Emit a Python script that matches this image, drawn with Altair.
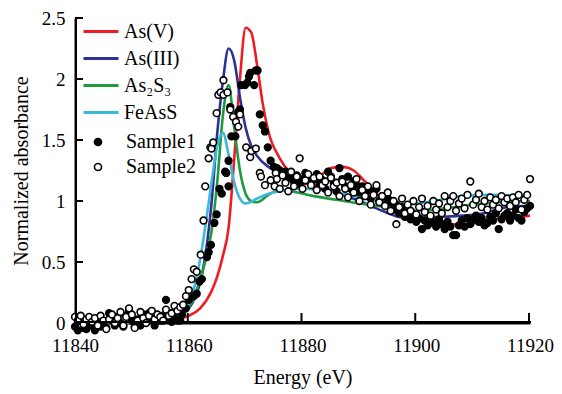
import altair as alt
import pandas as pd

# ---------------- reference curves (knots) ----------------
ASV_E = [11840, 11850, 11855, 11858, 11860, 11862, 11864, 11865, 11866, 11867, 11868, 11869,
         11870, 11871, 11872, 11873, 11874, 11876, 11878, 11880, 11881, 11883, 11885, 11887,
         11889, 11891, 11893, 11895, 11898, 11901, 11905, 11909, 11913, 11917, 11920]
ASV_Y = [0.0, 0.0, 0.01, 0.03, 0.06, 0.12, 0.26, 0.38, 0.55, 0.78, 1.35, 2.0,
         2.42, 2.38, 2.12, 1.8, 1.57, 1.35, 1.22, 1.14, 1.14, 1.2, 1.27, 1.28,
         1.25, 1.16, 1.06, 0.97, 0.88, 0.83, 0.81, 0.81, 0.85, 0.86, 0.88]

ASIII_E = [11840, 11850, 11855, 11858, 11860, 11861, 11862, 11863, 11864, 11865, 11866, 11867,
           11868, 11869, 11870, 11871, 11872, 11874, 11876, 11878, 11882, 11886, 11890, 11894,
           11897, 11900, 11904, 11908, 11912, 11916, 11920]
ASIII_Y = [0.0, 0.0, 0.02, 0.06, 0.12, 0.2, 0.33, 0.58, 0.98, 1.55, 1.98, 2.25,
           2.15, 1.85, 1.6, 1.45, 1.37, 1.28, 1.23, 1.19, 1.13, 1.07, 1.0, 0.92,
           0.87, 0.86, 0.87, 0.88, 0.9, 0.95, 0.96]

AS2S3_E = [11840, 11850, 11855, 11858, 11860, 11861, 11862, 11863, 11864, 11865, 11866, 11867,
           11868, 11869, 11870, 11871, 11872, 11874, 11876, 11878, 11882, 11886, 11890, 11895,
           11900, 11905, 11910, 11915, 11920]
AS2S3_Y = [0.0, 0.0, 0.02, 0.06, 0.13, 0.22, 0.36, 0.52, 0.75, 1.15, 1.7, 1.95,
           1.6, 1.25, 1.06, 1.0, 0.99, 1.05, 1.09, 1.08, 1.04, 1.01, 0.98, 0.95,
           0.92, 0.94, 0.97, 0.99, 1.0]

FEASS_E = [11840, 11850, 11855, 11858, 11859, 11860, 11861, 11862, 11863, 11864, 11865, 11866,
           11867, 11868, 11869, 11870, 11872, 11874, 11876, 11879, 11883, 11888, 11893, 11898,
           11903, 11908, 11913, 11920]
FEASS_Y = [0.0, 0.0, 0.02, 0.07, 0.1, 0.16, 0.3, 0.52, 0.82, 1.15, 1.45, 1.56,
           1.38, 1.15, 1.02, 0.98, 1.02, 1.06, 1.08, 1.1, 1.09, 1.05, 1.0, 0.97,
           1.0, 1.04, 1.05, 1.04]

# ---------------- measured samples (energy, absorbance) ----------------
SAMPLE1 = [
    (11840.0, -0.03), (11840.5, -0.06), (11841.0, 0.02), (11841.5, -0.04), (11842.0, -0.05),
    (11842.5, 0.0), (11843.0, -0.02), (11843.5, -0.06), (11844.0, 0.03), (11844.5, -0.03),
    (11845.0, 0.0), (11845.5, -0.04), (11846.0, 0.08), (11846.5, 0.02), (11847.0, -0.02),
    (11847.5, 0.05), (11848.0, 0.0), (11848.5, -0.03), (11849.0, 0.06), (11849.5, 0.1),
    (11850.0, 0.02), (11850.5, -0.03), (11851.0, 0.03), (11851.5, -0.02), (11852.0, 0.07),
    (11852.5, 0.01), (11853.0, 0.08), (11853.5, 0.03), (11854.0, -0.02), (11854.5, 0.05),
    (11855.0, 0.02), (11855.5, 0.06), (11856.0, 0.19), (11856.5, 0.03), (11857.0, 0.01),
    (11857.5, 0.04), (11858.0, 0.02),
    (11858.5, 0.02), (11858.8, 0.07), (11859.5, 0.12), (11860.0, 0.19), (11860.9, 0.22),
    (11861.4, 0.24), (11861.9, 0.34), (11862.3, 0.36), (11863.2, 0.54), (11863.5, 0.58),
    (11863.9, 0.64), (11864.5, 0.82), (11864.9, 0.89), (11865.4, 1.10), (11865.8, 1.06),
    (11866.4, 1.24), (11866.6, 1.23), (11867.0, 1.12), (11867.0, 1.33), (11867.5, 1.53),
    (11868.2, 1.53), (11867.3, 1.77), (11868.7, 1.73), (11869.0, 1.75), (11869.2, 1.95),
    (11869.9, 1.95), (11870.3, 1.97), (11870.6, 2.02), (11870.8, 2.05), (11871.5, 1.95),
    (11871.8, 2.07), (11872.1, 2.07), (11872.5, 1.71), (11873.0, 1.62), (11873.4, 1.57),
    (11873.9, 1.44), (11874.4, 1.33), (11875.0, 1.28),
    (11875.5, 1.27), (11876.0, 1.25), (11876.5, 1.22), (11877.0, 1.24), (11877.5, 1.19),
    (11878.0, 1.2), (11878.5, 1.16), (11879.0, 1.21), (11879.5, 1.14), (11880.0, 1.18),
    (11880.5, 1.23), (11881.0, 1.2), (11881.5, 1.15), (11882.0, 1.18), (11882.5, 1.22),
    (11883.0, 1.14), (11883.5, 1.17), (11884.0, 1.1), (11884.5, 1.24), (11885.0, 1.2),
    (11885.5, 1.15), (11886.0, 1.08), (11886.5, 1.27), (11887.0, 1.18), (11887.5, 1.12),
    (11888.0, 1.2), (11888.5, 1.1), (11889.0, 1.16), (11889.5, 1.13), (11890.0, 1.07),
    (11890.5, 1.12), (11891.0, 1.05), (11891.5, 1.09), (11892.0, 1.02), (11892.5, 1.08),
    (11893.0, 1.1), (11893.5, 1.0), (11894.0, 1.04), (11894.5, 0.97), (11895.0, 1.02),
    (11895.5, 0.99), (11896.0, 0.93), (11896.5, 0.97), (11897.0, 0.9), (11897.5, 0.95),
    (11898.0, 0.87), (11898.5, 0.91), (11899.0, 0.85), (11899.5, 0.88), (11900.0, 0.83),
    (11900.5, 0.86), (11901.0, 0.77), (11901.5, 0.84), (11902.0, 0.8), (11902.5, 0.86),
    (11903.0, 0.82), (11903.5, 0.79), (11904.0, 0.85), (11904.5, 0.81), (11905.0, 0.77),
    (11905.5, 0.83), (11906.0, 0.79), (11906.5, 0.72), (11907.0, 0.72), (11907.5, 0.8),
    (11908.0, 0.84), (11908.5, 0.79), (11909.0, 0.86), (11909.5, 0.81), (11910.0, 0.85),
    (11910.5, 0.88), (11911.0, 0.83), (11911.5, 0.86), (11912.0, 0.8), (11912.5, 0.82),
    (11913.0, 0.87), (11913.5, 0.84), (11914.0, 0.9), (11914.5, 0.77), (11915.0, 0.85),
    (11915.5, 0.88), (11916.0, 0.9), (11916.5, 0.84), (11917.0, 0.88), (11917.5, 0.93),
    (11918.0, 0.86), (11918.5, 0.84), (11919.0, 0.91), (11919.5, 0.94), (11920.0, 0.96),
]

SAMPLE2 = [
    (11840.0, 0.05), (11840.5, 0.02), (11841.0, 0.06), (11841.5, -0.01), (11842.0, 0.03),
    (11842.5, 0.05), (11843.0, 0.01), (11843.5, 0.04), (11844.0, -0.02), (11844.5, 0.06),
    (11845.0, 0.02), (11845.5, -0.05), (11846.0, 0.03), (11846.5, 0.07), (11847.0, 0.0),
    (11847.5, 0.04), (11848.0, 0.09), (11848.5, -0.02), (11849.0, 0.05), (11849.5, 0.12),
    (11850.0, 0.07), (11850.5, -0.04), (11851.0, 0.02), (11851.5, 0.09), (11852.0, 0.04),
    (11852.5, 0.0), (11853.0, 0.06), (11853.5, 0.1), (11854.0, 0.03), (11854.5, 0.07),
    (11855.0, 0.05), (11855.5, 0.02), (11856.0, 0.11), (11856.5, 0.06), (11857.0, 0.08),
    (11857.5, 0.14), (11858.0, 0.1),
    (11858.5, 0.13), (11859.0, 0.15), (11859.5, 0.22), (11860.0, 0.27), (11860.5, 0.36),
    (11860.9, 0.44), (11861.4, 0.42), (11862.1, 0.56), (11862.6, 0.84), (11862.9, 1.12),
    (11863.5, 1.35), (11863.8, 1.44), (11864.0, 1.43), (11864.3, 1.48), (11864.9, 1.72),
    (11865.2, 1.87), (11865.6, 1.89), (11866.1, 1.87), (11866.1, 1.99), (11866.8, 1.89),
    (11867.3, 1.75), (11867.8, 1.69), (11868.3, 1.65), (11868.7, 1.61), (11869.0, 1.71),
    (11870.1, 1.44), (11870.8, 1.36), (11871.0, 1.41), (11871.8, 1.43), (11872.5, 1.23),
    (11872.7, 1.20), (11873.4, 1.13), (11874.4, 1.17), (11875.1, 1.12), (11875.3, 1.23),
    (11875.5, 1.18), (11876.0, 1.1), (11876.5, 1.21), (11877.0, 1.15), (11877.5, 1.08),
    (11878.0, 1.24), (11878.5, 1.12), (11879.0, 1.2), (11879.5, 1.35), (11880.0, 1.1),
    (11880.5, 1.17), (11881.0, 1.22), (11881.5, 1.13), (11882.0, 1.19), (11882.5, 1.09),
    (11883.0, 1.2), (11883.5, 1.13), (11884.0, 1.16), (11884.5, 1.07), (11885.0, 1.19),
    (11885.5, 1.12), (11886.0, 1.15), (11886.5, 1.04), (11887.0, 1.16), (11887.5, 1.1),
    (11888.0, 1.03), (11888.5, 1.13), (11889.0, 1.07), (11889.5, 1.18), (11890.0, 1.0),
    (11890.5, 1.09), (11891.0, 1.04), (11891.5, 1.12), (11892.0, 0.97), (11892.5, 1.05),
    (11893.0, 1.13), (11893.5, 0.99), (11894.0, 1.04), (11894.5, 0.96), (11895.0, 1.07),
    (11895.5, 0.92), (11896.0, 1.0), (11896.5, 0.81), (11897.0, 0.95), (11897.5, 1.02),
    (11898.0, 0.9), (11898.5, 0.97), (11899.0, 0.92), (11899.5, 1.0), (11900.0, 0.89),
    (11900.5, 0.95), (11901.0, 1.02), (11901.5, 0.91), (11902.0, 0.96), (11902.5, 0.88),
    (11903.0, 1.0), (11903.5, 0.93), (11904.0, 0.98), (11904.5, 0.9), (11905.0, 1.04),
    (11905.5, 0.95), (11906.0, 1.0), (11906.5, 1.04), (11907.0, 0.92), (11907.5, 0.98),
    (11908.0, 1.02), (11908.5, 0.94), (11909.0, 1.05), (11909.5, 1.16), (11910.0, 0.97),
    (11910.5, 1.01), (11911.0, 1.06), (11911.5, 0.95), (11912.0, 1.0), (11912.5, 0.93),
    (11913.0, 1.03), (11913.5, 0.97), (11914.0, 1.01), (11914.5, 0.94), (11915.0, 1.04),
    (11915.5, 0.99), (11916.0, 1.02), (11916.5, 0.96), (11917.0, 1.03), (11917.5, 0.99),
    (11918.0, 1.05), (11918.5, 0.93), (11919.0, 1.01), (11919.5, 1.05), (11920.0, 1.18),
]

CURVES = ["As(V)", "As(III)", "As\u2082S\u2083", "FeAsS"]
CURVE_COLORS = ["#ee1c24", "#2e3192", "#1f9a3f", "#3cb8db"]
SAMPLES = ["Sample1", "Sample2"]
SAMPLE_FILLS = ["#000000", "#ffffff"]

X_DOMAIN = [11840, 11920]
Y_DOMAIN = [0, 2.5]
X_TICKS = [11860, 11880, 11900, 11920]
Y_TICKS = [0.5, 1.0, 1.5, 2.0, 2.5]

FONT = "Liberation Serif"
PLOT_W = 455
PLOT_H = 305

# ---------------- tables ----------------
rows = []
for name, es, ys in [(CURVES[0], ASV_E, ASV_Y), (CURVES[1], ASIII_E, ASIII_Y),
                     (CURVES[2], AS2S3_E, AS2S3_Y), (CURVES[3], FEASS_E, FEASS_Y)]:
    for e, y in zip(es, ys):
        rows.append({"E": e, "y": y, "series": name})
lines_df = pd.DataFrame(rows)

prow = []
for name, pts in [(SAMPLES[0], SAMPLE1), (SAMPLES[1], SAMPLE2)]:
    for e, y in pts:
        prow.append({"E": e, "y": y, "series": name})
points_df = pd.DataFrame(prow)

# axis frame and inward ticks as short line segments, one pixel inside the plot edge
px_x = (X_DOMAIN[1] - X_DOMAIN[0]) / PLOT_W     # energy per pixel
px_y = (Y_DOMAIN[1] - Y_DOMAIN[0]) / PLOT_H     # absorbance per pixel
x_in = X_DOMAIN[0] + 1.0 * px_x
y_in = Y_DOMAIN[0] + 1.0 * px_y
seg = []
seg += [{"E": X_DOMAIN[0], "y": y_in, "g": "xaxis"}, {"E": X_DOMAIN[1], "y": y_in, "g": "xaxis"}]
seg += [{"E": x_in, "y": Y_DOMAIN[0], "g": "yaxis"}, {"E": x_in, "y": Y_DOMAIN[1], "g": "yaxis"}]
for t in X_TICKS:
    seg += [{"E": t - 1.0 * px_x, "y": y_in, "g": f"xt{t}"},
            {"E": t - 1.0 * px_x, "y": y_in + 8 * px_y, "g": f"xt{t}"}]
for t in Y_TICKS:
    seg += [{"E": x_in, "y": t, "g": f"yt{t}"},
            {"E": x_in + 6 * px_x, "y": t, "g": f"yt{t}"}]
frame_df = pd.DataFrame(seg)

xscale = alt.Scale(domain=X_DOMAIN, nice=False, zero=False)
yscale = alt.Scale(domain=Y_DOMAIN, nice=False)

common = dict(domain=True, domainColor="black", domainWidth=2,
              grid=False, ticks=False, labelFlush=False,
              labelColor="#000000", titleColor="#000000", titleFontWeight="normal",
              labelFont=FONT, labelFontSize=19, titleFont=FONT, titleFontSize=20)

xaxis = alt.Axis(title="Energy (eV)", values=[11840] + X_TICKS, format="d",
                 labelPadding=13, titlePadding=12, **common)
yaxis = alt.Axis(title="Normalized absorbance", values=[0] + Y_TICKS, format="~g",
                 labelPadding=10, titlePadding=10, **common)

xenc = alt.X("E:Q", scale=xscale, axis=xaxis)
yenc = alt.Y("y:Q", scale=yscale, axis=yaxis)

frame = alt.Chart(frame_df).mark_line(color="black", strokeWidth=2, strokeCap="square").encode(
    x=xenc, y=yenc, detail="g:N"
)

lines = alt.Chart(lines_df).mark_line(strokeWidth=2.6, interpolate="monotone").encode(
    x=xenc, y=yenc, detail="series:N",
    stroke=alt.Stroke("series:N", title=None,
                      scale=alt.Scale(domain=CURVES, range=CURVE_COLORS),
                      legend=alt.Legend(orient="none", legendX=7, legendY=0,
                                        symbolType="stroke", symbolSize=1225,
                                        symbolStrokeWidth=3, clipHeight=27, rowPadding=0,
                                        labelFont=FONT, labelFontSize=20,
                                        labelColor="#000000", labelOffset=4)),
)

pt_legend = alt.Legend(orient="none", legendX=13, legendY=114,
                       symbolType="circle", symbolSize=50, symbolStrokeWidth=1.6,
                       rowPadding=5, labelFont=FONT, labelFontSize=20,
                       labelColor="#000000", labelOffset=18)

points = alt.Chart(points_df).mark_point(filled=False, opacity=1, fillOpacity=1,
                                         size=45, strokeWidth=1.6).encode(
    x=xenc, y=yenc,
    stroke=alt.Stroke("series:N", title=None,
                      scale=alt.Scale(domain=SAMPLES, range=["black", "black"]),
                      legend=pt_legend),
    fill=alt.Fill("series:N", title=None,
                  scale=alt.Scale(domain=SAMPLES, range=SAMPLE_FILLS),
                  legend=pt_legend),
)

chart = alt.layer(lines, points, frame).resolve_scale(
    stroke="independent", fill="independent"
).resolve_legend(stroke="independent", fill="independent").properties(
    width=PLOT_W, height=PLOT_H,
    autosize=alt.AutoSizeParams(type="none"),
    padding={"left": 67, "top": 10, "right": 24, "bottom": 70},
).configure_view(strokeWidth=0)

chart.save("out.html", embed_options={"renderer": "svg", "actions": False})
